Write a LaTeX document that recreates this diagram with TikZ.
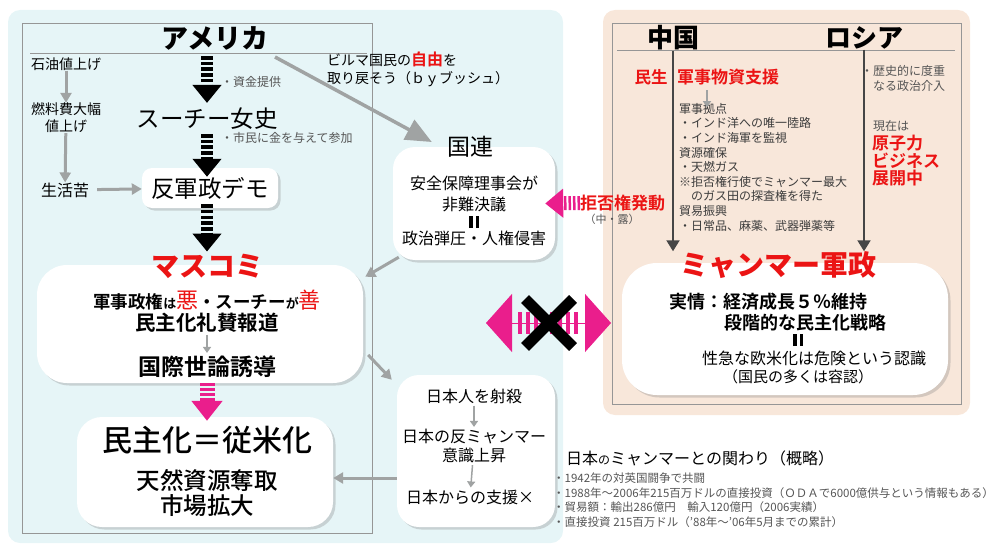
\documentclass[tikz,border=0pt]{standalone}
\usepackage{fontspec}
\setmainfont{Noto Sans CJK JP}[BoldFont={Noto Sans CJK JP Bold}]
\newfontfamily\heavyfont{Noto Sans CJK JP Black}
\newfontfamily\medfont{Noto Sans CJK JP Medium}
\usetikzlibrary{arrows.meta,shadows}

\definecolor{panelblue}{RGB}{230,245,247}
\definecolor{panelbeige}{RGB}{248,231,218}
\definecolor{framegray}{RGB}{150,150,150}
\definecolor{arrowgray}{RGB}{160,163,163}
\definecolor{darkarrow}{RGB}{70,70,70}
\definecolor{notegray}{RGB}{85,85,85}
\definecolor{listgray}{RGB}{60,60,60}
\definecolor{alertred}{RGB}{235,20,20}
\definecolor{vetopink}{RGB}{234,30,140}

\newcommand{\fsz}[1]{\fontsize{#1}{#1}\selectfont}
\newcommand{\eqbars}{\rule{3.5pt}{12pt}\hspace{3pt}\rule{3.5pt}{12pt}}

\tikzset{
  frame/.style={draw=framegray, line width=0.8pt},
  whitebox/.style={fill=white, inner sep=0pt,
    drop shadow={shadow xshift=2.5pt, shadow yshift=-2.5pt, opacity=0.3}},
  txt/.style={inner sep=0pt},
  barrow/.style={draw=black, line width=12pt, dash pattern=on 3.5pt off 2.2pt,
    -{Triangle[width=28pt,length=18pt]}},
  pinkarrow/.style={draw=vetopink, line width=15pt, dash pattern=on 3pt off 2pt,
    -{Triangle[width=30pt,length=20pt]}},
  vetoarrow/.style={draw=vetopink, line width=14pt, dash pattern=on 2.5pt off 2pt,
    -{Triangle[width=28pt,length=18pt]}},
  garrow/.style={draw=arrowgray, line width=3pt, -{Triangle[width=11pt,length=10pt]}},
  bigarrow/.style={draw=arrowgray, line width=3.5pt, -{Triangle[width=22pt,length=26pt]}},
  sgarrow/.style={draw=arrowgray, line width=1.5pt, -{Triangle[width=8pt,length=6pt]}},
  darrow/.style={draw=darkarrow, line width=2pt, -{Triangle[width=13pt,length=11pt]}},
}

\begin{document}
\begin{tikzpicture}[x=1pt, y=-1pt]
  \useasboundingbox (0,0) rectangle (1001,551);

  % panels
  \fill[panelblue, rounded corners=12pt] (8,10) rectangle (563,543);
  \fill[panelbeige, rounded corners=12pt] (603,10) rectangle (970,415);
  \draw[frame] (22,23) rectangle (372,533);
  \draw[frame] (30,53) -- (367,53);
  \draw[frame] (612,23) rectangle (961,404);
  \draw[frame] (617,50) -- (955,50);

  % boxes
  \node[whitebox, minimum width=136pt, minimum height=40pt, rounded corners=10pt] (demo) at (210,188) {\fsz{23.5}反軍政デモ};
  \node[whitebox, minimum width=326pt, minimum height=118pt, rounded corners=30pt] (mediabox) at (200,324) {};
  \node[whitebox, minimum width=256pt, minimum height=110pt, rounded corners=25pt] (resultbox) at (205,472) {};
  \node[whitebox, minimum width=162pt, minimum height=113pt, rounded corners=22pt] (unbox) at (474,203.5) {};
  \node[whitebox, minimum width=158pt, minimum height=152pt, rounded corners=22pt] (japanbox) at (476,451) {};
  \node[whitebox, minimum width=326pt, minimum height=132pt, rounded corners=35pt] (juntabox) at (785,329) {};

  % America side
  \node[txt] (usa) at (215,38) {\heavyfont\fsz{27}アメリカ};
  \node[txt] (suu) at (207,119) {\fsz{23.5}スーチー女史};
  \node[txt, anchor=west, text=notegray] (fund) at (221,82) {\fsz{12}・資金提供};
  \node[txt, anchor=west, text=notegray] (pay) at (221,138) {\fsz{12}・市民に金を与えて参加};
  \node[txt] (oil) at (66,64) {\fsz{14}石油値上げ};
  \node[txt, align=center, font=\fontsize{14}{17}\selectfont] (fuel) at (66,118) {燃料費大幅\\値上げ};
  \node[txt] (life) at (65,190) {\fsz{16}生活苦};
  \node[txt, anchor=north west, align=left, font=\fontsize{14}{18}\selectfont] (bush) at (327,52) {ビルマ国民の{\bfseries\color{alertred}\fsz{16}自由}を\\取り戻そう（ｂｙブッシュ）};

  % mass media
  \node[txt, text=alertred] (media) at (207,266) {\heavyfont\fsz{28}マスコミ};
  \node[txt] (media1) at (207,300) {\bfseries\fsz{17.5}軍事政権{\fsz{13}は}{\mdseries\color{alertred}\fsz{22}悪}・スーチー{\fsz{13}が}{\mdseries\color{alertred}\fsz{22}善}};
  \node[txt] (media2) at (207,323) {\bfseries\fsz{20.5}民主化礼賛報道};
  \node[txt] (media3) at (207,367) {\bfseries\fsz{23}国際世論誘導};
  \node[txt] (result1) at (207,440) {\medfont\fsz{30}民主化＝従米化};
  \node[txt, align=center, font=\medfont\fontsize{23.5}{25}\selectfont] (result2) at (207,493) {天然資源奪取\\市場拡大};

  % UN
  \node[txt] (untitle) at (470,147) {\fsz{23}国連};
  \node[txt, align=center, font=\fontsize{16}{21}\selectfont] (un1) at (474,194) {安全保障理事会が\\非難決議};
  \node[txt] (uneq) at (474,222) {\eqbars};
  \node[txt] (un2) at (474,238) {\fsz{16}政治弾圧・人権侵害};
  \node[txt, anchor=west, text=alertred] (veto) at (580,203) {\bfseries\fsz{17}拒否権発動};
  \node[txt, text=notegray] (vetosub) at (612,219) {\fsz{11}（中・露）};

  % Japan
  \node[txt] (jp1) at (474,396) {\fsz{16}日本人を射殺};
  \node[txt, align=center, font=\fontsize{16}{19}\selectfont] (jp2) at (474,446) {日本の反ミャンマー\\意識上昇};
  \node[txt] (jp3) at (470,497) {\fsz{16}日本からの支援×};

  % China and Russia
  \node[txt] (china) at (673,38) {\heavyfont\fsz{26}中国};
  \node[txt] (russia) at (864,38) {\heavyfont\fsz{26}ロシア};
  \node[txt, text=alertred] (civil) at (651,77) {\bfseries\fsz{16.5}民生};
  \node[txt, text=alertred] (mil) at (728,77) {\bfseries\fsz{17}軍事物資支援};
  \node[txt, anchor=north west, align=left, text=listgray, font=\fontsize{12}{14.6}\selectfont] (chlist) at (679,103) {軍事拠点\\・インド洋への唯一陸路\\・インド海軍を監視\\資源確保\\・天燃ガス\\※拒否権行使でミャンマー最大\\　のガス田の探査権を得た\\貿易振興\\・日常品、麻薬、武器弾薬等};
  \node[txt, anchor=north west, align=left, text=notegray, font=\fontsize{12}{15}\selectfont] (history) at (873,65) {\llap{・}歴史的に度重\\なる政治介入};
  \node[txt, anchor=west, text=notegray] (now) at (873,126) {\fsz{12}現在は};
  \node[txt, anchor=north west, align=left, text=alertred, font=\bfseries\fontsize{17}{17.5}\selectfont] (nuclear) at (872,135) {原子力\\ビジネス\\展開中};

  % junta
  \node[txt, text=alertred] (junta) at (778,265) {\heavyfont\fsz{28}ミャンマー軍政};
  \node[txt] (j1) at (768,302) {\bfseries\fsz{18}実情：経済成長５％維持};
  \node[txt] (j2) at (805,323) {\bfseries\fsz{18}段階的な民主化戦略};
  \node[txt] (jeq) at (798,340) {\eqbars};
  \node[txt] (j3) at (814,358) {\fsz{16}性急な欧米化は危険という認識};
  \node[txt] (j4) at (798,377) {\fsz{15}（国民の多くは容認）};

  % Japan relations
  \node[txt, anchor=west] (jprel) at (566,458) {\fsz{16}日本{\fsz{12}の}ミャンマーとの関わり（概略）};
  \node[txt, anchor=north west, align=left, text=notegray, font=\fontsize{11.5}{14.5}\selectfont] (jplist) at (553,473) {・1942年の対英国闘争で共闘\\・1988年～2006年215百万ドルの直接投資（ＯＤＡで6000億供与という情報もある）\\・貿易額：輸出286億円　輸入120億円（2006実績）\\・直接投資 215百万ドル（'88年～'06年5月までの累計）};

  % connections
  \coordinate (usabot) at (suu.north |- usa.south);
  \coordinate (demotop) at (suu.south |- demo.north);
  \coordinate (demobot) at (media.north |- demo.south);
  \draw[barrow] ([yshift=-6pt]usabot) -- ([yshift=5pt]suu.north);
  \draw[barrow] ([yshift=-4pt]suu.south) -- ([yshift=-9pt]demotop);
  \draw[barrow] ([yshift=4pt]demobot) -- ([yshift=2pt]media.north);
  \draw[pinkarrow] ([xshift=7pt]mediabox.south) -- ([xshift=2pt, yshift=-4pt]resultbox.north);

  \draw[garrow] (oil) -- (fuel);
  \draw[garrow] (fuel) -- (life);
  \draw[garrow, shorten <=8pt] (life) -- (demo);
  \coordinate (bushtail) at (275,57);
  \draw[bigarrow] (bushtail) -- ([xshift=-15pt, yshift=5pt]untitle.west);
  \draw[garrow] ([shift={(6pt,3pt)}]unbox.south west) -- ([shift={(2pt,-12pt)}]mediabox.north east);
  \draw[garrow] ([shift={(5pt,-31pt)}]mediabox.east) -- ([shift={(-5pt,-5pt)}]japanbox.north west);
  \draw[garrow] ([yshift=-27pt]japanbox.west) -- ([yshift=-6pt]resultbox.east);

  \draw[sgarrow, shorten <=2pt, shorten >=3pt] (media2) -- (media3);
  \draw[sgarrow, shorten <=2pt, shorten >=2pt] (jp1) -- (jp2);
  \draw[sgarrow, shorten <=2pt, shorten >=2pt] (jp2) -- (jp3);
  \draw[sgarrow] ([xshift=-21pt, yshift=-5pt]mil.south) -- ++(0,17);

  \draw[darrow] (china.south) -- (china.south |- junta.north);
  \draw[darrow] (russia.south) -- (russia.south |- junta.north);
  \draw[vetoarrow] (veto.west) -- ([xshift=-10pt]unbox.east);

  % blocked exchange
  \coordinate (dblL) at (486,323);
  \coordinate (dblR) at (611,323);
  \coordinate (cross) at (549,323);
  \draw[vetopink, line width=1pt, {Triangle[width=58pt,length=26pt]}-{Triangle[width=58pt,length=26pt]}] (dblL) -- (dblR);
  \draw[vetopink, line width=22pt, dash pattern=on 4pt off 4pt] ([xshift=32pt]dblL) -- ([xshift=-32pt]dblR);
  \draw[line width=11pt] ([shift={(-24pt,24pt)}]cross) -- ([shift={(24pt,-24pt)}]cross);
  \draw[line width=11pt] ([shift={(-24pt,-24pt)}]cross) -- ([shift={(24pt,24pt)}]cross);
\end{tikzpicture}
\end{document}
